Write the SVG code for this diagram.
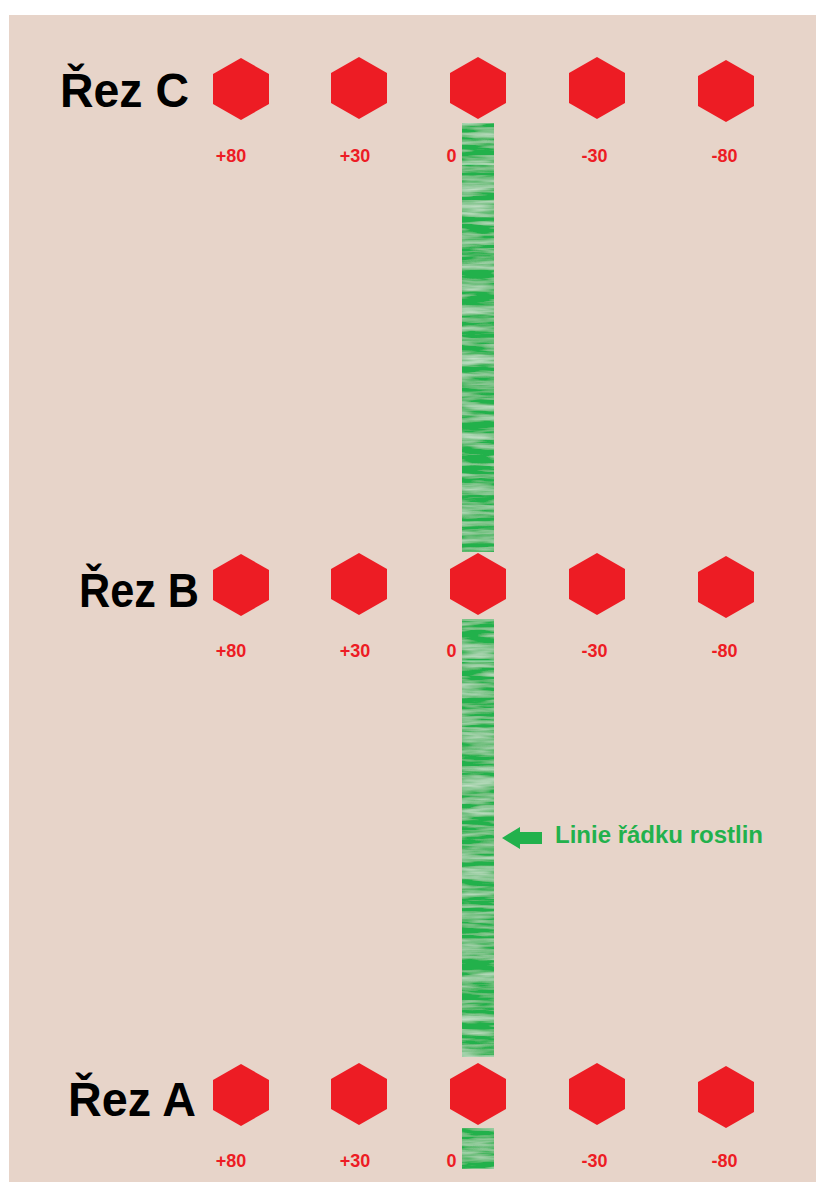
<svg xmlns="http://www.w3.org/2000/svg" xmlns:xlink="http://www.w3.org/1999/xlink" width="816" height="1182" viewBox="0 0 816 1182">
  <style>
    .section { font-family: "Liberation Sans", Arial, sans-serif; font-weight: bold; font-size: 49px; fill: #000; }
    .offset { font-family: "Liberation Sans", Arial, sans-serif; font-weight: bold; font-size: 18px; fill: #ed1c24; text-anchor: middle; }
    .note { font-family: "Liberation Sans", Arial, sans-serif; font-weight: bold; font-size: 24px; fill: #22b14c; }
    .hex { fill: #ed1c24; }
    .row { fill: #22b14c; }
  </style>
  <defs>
    <polygon id="hex" class="hex" points="0,-31 28,-15 28,15 0,31 -28,15 -28,-15"/>
    <!-- faint horizontal light streaks laid over the plant row -->
    <filter id="streaks" x="0" y="0" width="1" height="1">
      <feTurbulence type="fractalNoise" baseFrequency="0.02 0.18" numOctaves="3" seed="7" result="noise"/>
      <feColorMatrix in="noise" type="matrix" values="0 0 0 0 1  0 0 0 0 1  0 0 0 0 1  1.1 0 0 0 -0.42" result="white"/>
      <feComposite in="white" in2="SourceAlpha" operator="in" result="lines"/>
      <feMerge>
        <feMergeNode in="SourceGraphic"/>
        <feMergeNode in="lines"/>
      </feMerge>
    </filter>
  </defs>

  <!-- sheet -->
  <rect x="0" y="0" width="816" height="1182" fill="#ffffff"/>
  <rect x="9" y="15" width="807" height="1167" fill="#e7d4c9"/>

  <!-- plant row strips -->
  <g id="plant-row">
    <rect class="row" x="462" y="123" width="32" height="429" filter="url(#streaks)"/>
    <rect x="462" y="163.5" width="32" height="1.2" fill="#d9eadc" opacity="0.8"/>
    <rect class="row" x="462" y="619" width="32" height="438" filter="url(#streaks)"/>
    <rect x="462" y="660.5" width="32" height="1.2" fill="#d9eadc" opacity="0.8"/>
    <rect class="row" x="462" y="1128" width="32" height="41" filter="url(#streaks)"/>
  </g>

  <!-- section C -->
  <g id="section-c">
    <text class="section" x="60" y="107" textLength="129" lengthAdjust="spacingAndGlyphs">Řez C</text>
  </g>
  <g id="c-plus80"><use xlink:href="#hex" x="241" y="89"/><text class="offset" x="231" y="162">+80</text></g>
  <g id="c-plus30"><use xlink:href="#hex" x="359" y="88"/><text class="offset" x="355" y="162">+30</text></g>
  <g id="c-zero"><use xlink:href="#hex" x="478" y="88"/><text class="offset" x="451.5" y="162">0</text></g>
  <g id="c-minus30"><use xlink:href="#hex" x="597" y="88"/><text class="offset" x="594.5" y="162">-30</text></g>
  <g id="c-minus80"><use xlink:href="#hex" x="726" y="91"/><text class="offset" x="724.5" y="162">-80</text></g>

  <!-- section B -->
  <g id="section-b">
    <text class="section" x="79" y="607" textLength="120" lengthAdjust="spacingAndGlyphs">Řez B</text>
  </g>
  <g id="b-plus80"><use xlink:href="#hex" x="241" y="585"/><text class="offset" x="231" y="657">+80</text></g>
  <g id="b-plus30"><use xlink:href="#hex" x="359" y="584"/><text class="offset" x="355" y="657">+30</text></g>
  <g id="b-zero"><use xlink:href="#hex" x="478" y="584"/><text class="offset" x="451.5" y="657">0</text></g>
  <g id="b-minus30"><use xlink:href="#hex" x="597" y="584"/><text class="offset" x="594.5" y="657">-30</text></g>
  <g id="b-minus80"><use xlink:href="#hex" x="726" y="587"/><text class="offset" x="724.5" y="657">-80</text></g>

  <!-- section A -->
  <g id="section-a">
    <text class="section" x="68" y="1116" textLength="128" lengthAdjust="spacingAndGlyphs">Řez A</text>
  </g>
  <g id="a-plus80"><use xlink:href="#hex" x="241" y="1095"/><text class="offset" x="231" y="1167">+80</text></g>
  <g id="a-plus30"><use xlink:href="#hex" x="359" y="1094"/><text class="offset" x="355" y="1167">+30</text></g>
  <g id="a-zero"><use xlink:href="#hex" x="478" y="1094"/><text class="offset" x="451.5" y="1167">0</text></g>
  <g id="a-minus30"><use xlink:href="#hex" x="597" y="1094"/><text class="offset" x="594.5" y="1167">-30</text></g>
  <g id="a-minus80"><use xlink:href="#hex" x="726" y="1097"/><text class="offset" x="724.5" y="1167">-80</text></g>

  <!-- pointer to the plant row -->
  <g id="connectors">
    <polygon class="row" points="502,838 520,827 520,832 542,832 542,844 520,844 520,849"/>
  </g>
  <g id="row-label">
    <text class="note" x="555" y="843" textLength="208" lengthAdjust="spacingAndGlyphs">Linie řádku rostlin</text>
  </g>
</svg>
